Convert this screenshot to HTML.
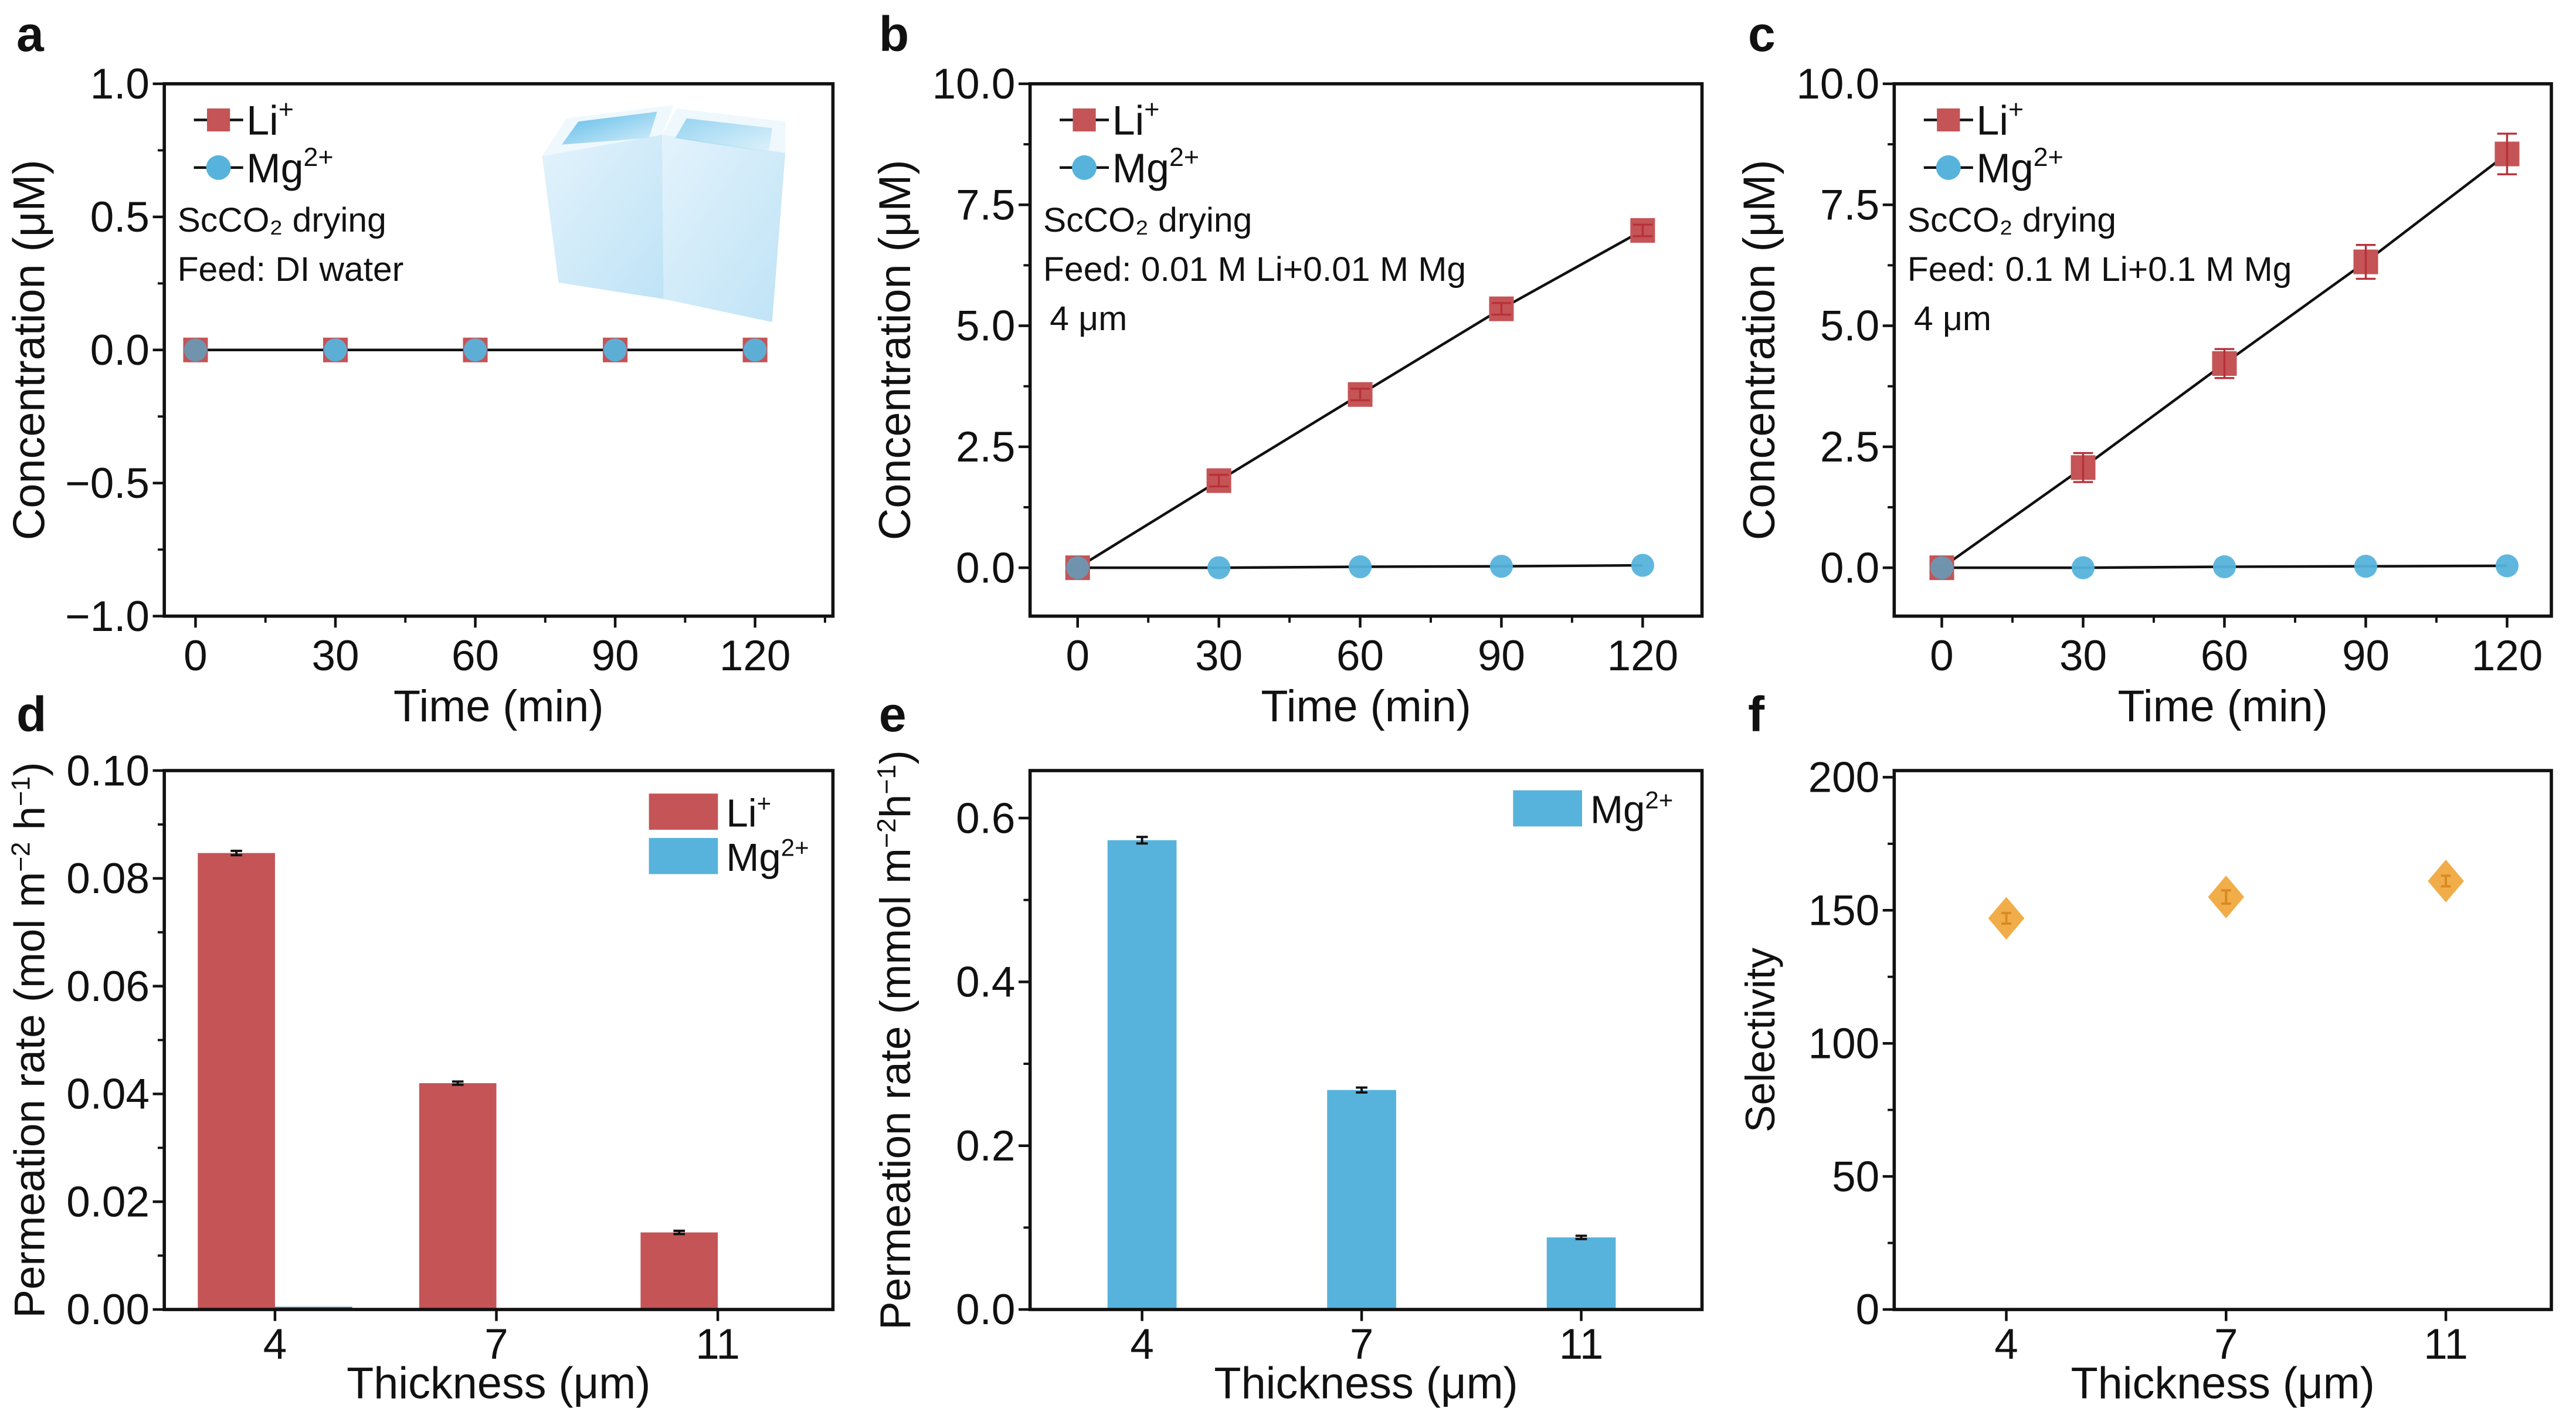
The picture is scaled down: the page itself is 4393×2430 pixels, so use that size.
<!DOCTYPE html>
<html><head><meta charset="utf-8"><style>
html,body{margin:0;padding:0;background:#fff}
svg{display:block}
text{font-family:"Liberation Sans",Arial,sans-serif;fill:#111}
</style></head><body>
<svg id="fig" width="4393" height="2430" viewBox="0 0 1568 867.3" preserveAspectRatio="none" xmlns="http://www.w3.org/2000/svg">
<defs>
<linearGradient id="cubeG" x1="0" y1="0" x2="1" y2="1"><stop offset="0" stop-color="#e3f3fc"/><stop offset="1" stop-color="#bfe3f6"/></linearGradient>
<linearGradient id="cubeIn" x1="0" y1="0" x2="1" y2="1"><stop offset="0" stop-color="#5bbbe8"/><stop offset="1" stop-color="#d6eefa"/></linearGradient>
</defs>
<g id="inset">
<polygon points="330,95 403,82 404,182 340,172" fill="url(#cubeG)"/>
<polygon points="330,95 345,72 410,64 403,82" fill="#eef8fd"/>
<polygon points="342,88 352,74 400,68 395,84" fill="url(#cubeIn)"/>
<polygon points="403,82 478,93 470,196 404,182" fill="url(#cubeG)"/>
<polygon points="403,82 412,66 478,74 478,93" fill="#eef8fd"/>
<polygon points="411,84 418,72 470,78 468,93" fill="url(#cubeIn)" opacity="0.6"/>
</g>
</svg>
<script>
// ---- data ----
const timeCats = [0, 30, 60, 90, 120];
const aLi = [0, 0, 0, 0, 0];
const aMg = [0, 0, 0, 0, 0];
const bLi = [0, 1.8, 3.58, 5.35, 6.97];
const bLiErr = [0.03, 0.12, 0.12, 0.12, 0.12];
const bMg = [0, 0, 0.02, 0.03, 0.05];
const cLi = [0, 2.07, 4.22, 6.32, 8.55];
const cLiErr = [0.05, 0.3, 0.3, 0.35, 0.42];
const cMg = [0, 0, 0.02, 0.03, 0.04];
const thickCats = ['4', '7', '11'];
const dLi = [0.0847, 0.042, 0.0143];
const dLiErr = [0.0004, 0.0003, 0.0003];
const dMg = [0.0005, 0.0002, 0.0001];
const eMg = [0.573, 0.268, 0.088];
const eMgErr = [0.004, 0.003, 0.002];
const fSel = [147, 155, 161];
const fSelErr = [2, 2.5, 2];
const aTicks = ['1.0', '0.5', '0.0', '\u22120.5', '\u22121.0'];
const aTickVals = [1, 0.5, 0, -0.5, -1];
const bcTicks = ['10.0', '7.5', '5.0', '2.5', '0.0'];
const bcTickVals = [10, 7.5, 5, 2.5, 0];
const dTicks = ['0.10', '0.08', '0.06', '0.04', '0.02', '0.00'];
const dTickVals = [0.1, 0.08, 0.06, 0.04, 0.02, 0];
const eTicks = ['0.6', '0.4', '0.2', '0.0'];
const eTickVals = [0.6, 0.4, 0.2, 0];
const fTicks = ['200', '150', '100', '50', '0'];
const fTickVals = [200, 150, 100, 50, 0];

const NS = 'http://www.w3.org/2000/svg';
const svg = document.getElementById('fig');
const RED = '#c45456', BLUE = '#57b3dc', ORANGE = '#f0a63a';
function el(tag, attrs, parent) {
  const e = document.createElementNS(NS, tag);
  for (const k in attrs) e.setAttribute(k, attrs[k]);
  (parent || svg).appendChild(e);
  return e;
}
function scale(d0, d1, p0, p1) { return v => p0 + (v - d0) / (d1 - d0) * (p1 - p0); }

function axes(g, box, xs, ys, yTicks, yVals, yMinor, xLabels, xVals, xMinor, xTitle, yTitle, yTitleSize, xLabOff, xTitleOff) {
  const fr = el('rect', {x: box.x0, y: box.y0, width: box.x1 - box.x0, height: box.y1 - box.y0, fill: 'none', stroke: '#111', 'stroke-width': 2}, g);
  
  
  yVals.forEach((v, i) => {
    const y = ys(v);
    el('line', {x1: box.x0 - 7, x2: box.x0, y1: y, y2: y, stroke: '#111', 'stroke-width': 1.6}, g);
    const t = el('text', {x: box.x0 - 9, y: y + 9, 'text-anchor': 'end', 'font-size': 26}, g);
    t.textContent = yTicks[i];
    
    
  });
  yMinor.forEach(v => { const y = ys(v); el('line', {x1: box.x0 - 4, x2: box.x0, y1: y, y2: y, stroke: '#111', 'stroke-width': 1.4}, g); });
  xVals.forEach((v, i) => {
    const x = xs(v);
    el('line', {x1: x, x2: x, y1: box.y1, y2: box.y1 + 7, stroke: '#111', 'stroke-width': 1.6}, g);
    const t = el('text', {x: x, y: box.y1 + (xLabOff || 33), 'text-anchor': 'middle', 'font-size': 26}, g);
    t.textContent = xLabels[i];
    
    
  });
  xMinor.forEach(v => { const x = xs(v); el('line', {x1: x, x2: x, y1: box.y1, y2: box.y1 + 4, stroke: '#111', 'stroke-width': 1.4}, g); });
  const xt = el('text', {x: (box.x0 + box.x1) / 2, y: box.y1 + (xTitleOff || 64), 'text-anchor': 'middle', 'font-size': 27}, g);
  xt.textContent = xTitle;
  
  
  const cy = (box.y0 + box.y1) / 2, cx = box.x0 - 73;
  const yt = el('text', {x: cx, y: cy, 'text-anchor': 'middle', 'font-size': yTitleSize || 27, transform: `rotate(-90 ${cx} ${cy})`}, g);
  yt.innerHTML = yTitle;
  
  
}
function panelLetter(ch, x, y) {
  const t = el('text', {x: x, y: y, 'font-size': 30, 'font-weight': 'bold'});
  t.textContent = ch;
  
  
}
function legendLine(g, x, y, kind, label, sup) {
  el('line', {x1: x, x2: x + 30, y1: y, y2: y, stroke: '#111', 'stroke-width': 1.6}, g);
  if (kind === 'sq') el('rect', {x: x + 8, y: y - 7, width: 14, height: 14, fill: RED}, g);
  else el('circle', {cx: x + 15, cy: y, r: 7.5, fill: BLUE}, g);
  const t = el('text', {x: x + 32, y: y + 9, 'font-size': 25}, g);
  t.innerHTML = label + `<tspan dy="-10" font-size="16">${sup}</tspan>`;
  
  
}
function note(g, x, y, txt) {
  const t = el('text', {x: x, y: y, 'font-size': 21}, g);
  t.textContent = txt;
  
  
}

function linePanel(id, box, xd, yd, ticks, tickVals, minorStep, li, liErr, mg, notes) {
  const g = el('g', {});
  
  
  const xs = scale(xd[0], xd[1], box.x0, box.x1);
  const ys = scale(yd[0], yd[1], box.y1, box.y0);
  const minor = tickVals.slice(0, -1).map((v, i) => (v + tickVals[i + 1]) / 2);
  axes(g, box, xs, ys, ticks, tickVals, minor, timeCats.map(String), timeCats, [15, 45, 75, 105, 135].filter(v => v < xd[1]), 'Time (min)', 'Concentration (\u03bcM)');
  const lp = timeCats.map((t, i) => `${xs(t)},${ys(li[i])}`).join(' ');
  const pl = el('polyline', {points: lp, fill: 'none', stroke: '#111', 'stroke-width': 1.6}, g);
  
  
  const mp = timeCats.map((t, i) => `${xs(t)},${ys(mg[i])}`).join(' ');
  const pm = el('polyline', {points: mp, fill: 'none', stroke: '#111', 'stroke-width': 1.6}, g);
  
  
  timeCats.forEach((t, i) => {
    const x = xs(t), y = ys(li[i]);
    const r = el('rect', {x: x - 7.5, y: y - 7.5, width: 15, height: 15, fill: RED}, g);
    
    
    if (liErr) {
      const y1 = ys(li[i] + liErr[i]), y2 = ys(li[i] - liErr[i]);
      el('line', {x1: x, x2: x, y1: y1, y2: y2, stroke: '#b83038', 'stroke-width': 1.2}, g);
      el('line', {x1: x - 6, x2: x + 6, y1: y1, y2: y1, stroke: '#b83038', 'stroke-width': 1.2}, g);
      el('line', {x1: x - 6, x2: x + 6, y1: y2, y2: y2, stroke: '#b83038', 'stroke-width': 1.2}, g);
    }
  });
  timeCats.forEach((t, i) => {
    const c = el('circle', {cx: xs(t), cy: ys(mg[i]), r: 7, fill: i === 0 ? '#6b98b2' : BLUE, opacity: 0.95}, g);
    
    
  });
  legendLine(g, box.x0 + 18, 73, 'sq', 'Li', '+');
  legendLine(g, box.x0 + 18, 102, 'ci', 'Mg', '2+');
  notes.forEach((n, i) => note(g, box.x0 + (i === 2 ? 12 : 8), 141 + 30 * i, n));
}

panelLetter('a', 10, 31);
linePanel('a', {x0: 100, x1: 507, y0: 51, y1: 375}, [-6.7, 136.7], [-1, 1], aTicks, aTickVals, 0, aLi, null, aMg, ['ScCO\u2082 drying', 'Feed: DI water']);
svg.appendChild(document.getElementById('inset'));
panelLetter('b', 535, 31);
linePanel('b', {x0: 627, x1: 1036, y0: 51, y1: 375}, [-10.1, 132.6], [-1, 10], bcTicks, bcTickVals, 0, bLi, bLiErr, bMg, ['ScCO\u2082 drying', 'Feed: 0.01 M Li+0.01 M Mg', '4 \u03bcm']);
panelLetter('c', 1064, 31);
linePanel('c', {x0: 1153, x1: 1553, y0: 51, y1: 375}, [-10.1, 129.4], [-1, 10], bcTicks, bcTickVals, 0, cLi, cLiErr, cMg, ['ScCO\u2082 drying', 'Feed: 0.1 M Li+0.1 M Mg', '4 \u03bcm']);

function errBar(g, x, y1, y2, w, color) {
  el('line', {x1: x, x2: x, y1: y1, y2: y2, stroke: color, 'stroke-width': 1.4}, g);
  el('line', {x1: x - w, x2: x + w, y1: y1, y2: y1, stroke: color, 'stroke-width': 1.4}, g);
  el('line', {x1: x - w, x2: x + w, y1: y2, y2: y2, stroke: color, 'stroke-width': 1.4}, g);
}
const idx = [0, 1, 2];
// panel d
panelLetter('d', 10, 445);
{
  const box = {x0: 100, x1: 507, y0: 469, y1: 797};
  const g = el('g', {});
  
  
  const xs = scale(-0.5, 2.52, box.x0, box.x1), ys = scale(0, 0.1, box.y1, box.y0);
  const bw = 47;
  idx.forEach(i => {
    const x = xs(i);
    const r = el('rect', {x: x - bw, y: ys(dLi[i]), width: bw, height: ys(0) - ys(dLi[i]), fill: RED}, g);
    
    
    errBar(g, x - bw / 2, ys(dLi[i] + dLiErr[i]), ys(dLi[i] - dLiErr[i]), 3.5, '#111');
    const m = el('rect', {x: x, y: ys(dMg[i]), width: bw, height: Math.max(1, ys(0) - ys(dMg[i])), fill: '#3a7f96'}, g);
    
    
  });
  axes(g, box, xs, ys, dTicks, dTickVals, [0.09, 0.07, 0.05, 0.03, 0.01], thickCats, idx, [], 'Thickness (\u03bcm)', 'Permeation rate (mol m<tspan dy="-9" font-size="16">\u22122</tspan><tspan dy="9"> h</tspan><tspan dy="-9" font-size="16">\u22121</tspan><tspan dy="9">)</tspan>', 26, 30, 54);
  const l1 = el('rect', {x: 395, y: 483, width: 42, height: 22, fill: RED}, g);
   
  const l2 = el('rect', {x: 395, y: 510, width: 42, height: 22, fill: BLUE}, g);
   
  const t1 = el('text', {x: 442, y: 503, 'font-size': 24}, g); t1.innerHTML = 'Li<tspan dy="-9" font-size="15">+</tspan>';
   
  const t2 = el('text', {x: 442, y: 530, 'font-size': 24}, g); t2.innerHTML = 'Mg<tspan dy="-9" font-size="15">2+</tspan>';
   
}
// panel e
panelLetter('e', 535, 445);
{
  const box = {x0: 627, x1: 1036, y0: 469, y1: 797};
  const g = el('g', {});
  
  
  const xs = scale(-0.51, 2.55, box.x0, box.x1), ys = scale(0, 0.658, box.y1, box.y0);
  const bw = 42;
  idx.forEach(i => {
    const x = xs(i);
    const r = el('rect', {x: x - bw / 2, y: ys(eMg[i]), width: bw, height: ys(0) - ys(eMg[i]), fill: BLUE}, g);
    
    
    errBar(g, x, ys(eMg[i] + eMgErr[i]), ys(eMg[i] - eMgErr[i]), 3.5, '#111');
  });
  axes(g, box, xs, ys, eTicks, eTickVals, [0.5, 0.3, 0.1], thickCats, idx, [], 'Thickness (\u03bcm)', 'Permeation rate (mmol m<tspan dy="-9" font-size="16">\u22122</tspan><tspan dy="9">h</tspan><tspan dy="-9" font-size="16">\u22121</tspan><tspan dy="9">)</tspan>', 26, 30, 54);
  const l = el('rect', {x: 921, y: 481, width: 42, height: 22, fill: BLUE}, g);
   
  const t = el('text', {x: 968, y: 501, 'font-size': 24}, g); t.innerHTML = 'Mg<tspan dy="-9" font-size="15">2+</tspan>';
   
}
// panel f
panelLetter('f', 1064, 445);
{
  const box = {x0: 1153, x1: 1553, y0: 469, y1: 797};
  const g = el('g', {});
  
  
  const xs = scale(-0.51, 2.48, box.x0, box.x1), ys = scale(0, 202.5, box.y1, box.y0);
  axes(g, box, xs, ys, fTicks, fTickVals, [175, 125, 75, 25], thickCats, idx, [], 'Thickness (\u03bcm)', 'Selectivity', 25, 30, 54);
  idx.forEach(i => {
    const x = xs(i), y = ys(fSel[i]);
    const d = el('polygon', {points: `${x},${y - 13} ${x + 11},${y} ${x},${y + 13} ${x - 11},${y}`, fill: ORANGE, opacity: 0.92}, g);
    
    
    errBar(g, x, ys(fSel[i] + fSelErr[i]), ys(fSel[i] - fSelErr[i]), 3, '#d88a20');
  });
}
</script>
</body></html>
